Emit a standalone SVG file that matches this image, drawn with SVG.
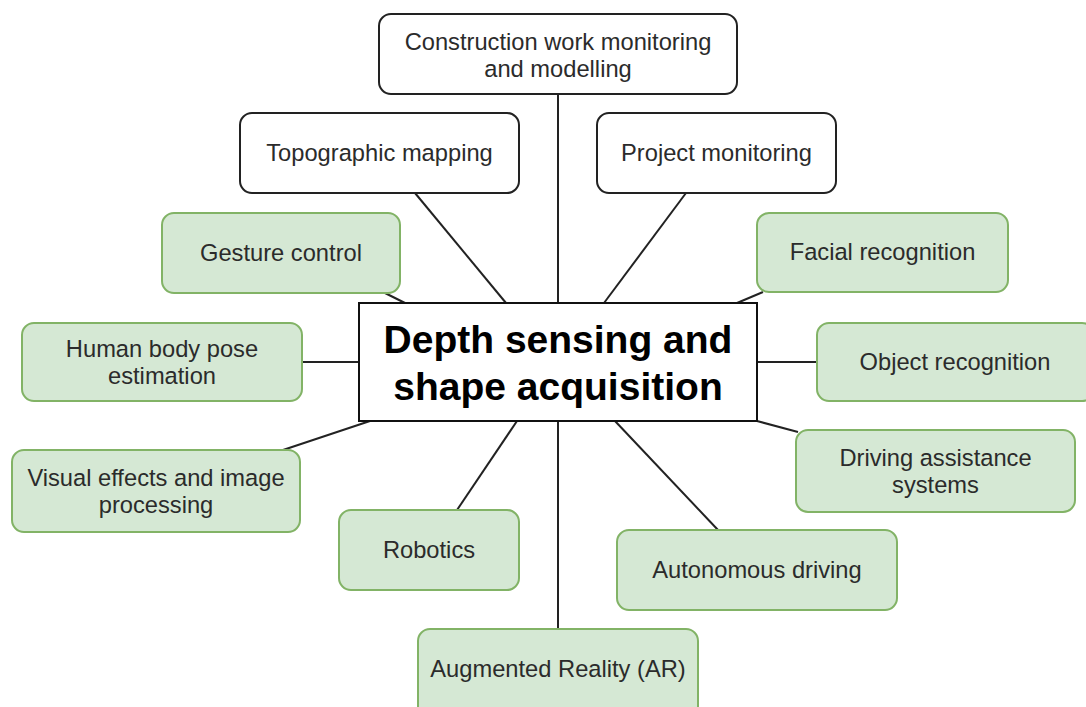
<svg xmlns="http://www.w3.org/2000/svg" width="1086" height="707" viewBox="0 0 1086 707">
  <style>
    .plain { fill: #ffffff; stroke: #222222; stroke-width: 2; }
    .green { fill: #d5e8d4; stroke: #82b366; stroke-width: 2; }
    .hub { fill: #ffffff; stroke: #111111; stroke-width: 2; }
    .lbl { font-family: "Liberation Sans", Arial, sans-serif; font-size: 23.7px; fill: #2b2b2b; text-anchor: middle; }
    .hubtxt { font-family: "Liberation Sans", Arial, sans-serif; font-size: 39px; font-weight: bold; fill: #000000; text-anchor: middle; }
    .links line { stroke: #222222; stroke-width: 2; }
  </style>
  <rect width="1086" height="707" fill="#ffffff"/>

  <!-- spokes from the central node -->
  <g id="connectors" class="links">
    <line x1="558" y1="94" x2="558" y2="303"/>
    <line x1="415" y1="193" x2="506" y2="303"/>
    <line x1="686" y1="193" x2="604" y2="303"/>
    <line x1="383" y1="292" x2="405" y2="303"/>
    <line x1="763" y1="292" x2="737" y2="303"/>
    <line x1="302" y1="362" x2="359" y2="362"/>
    <line x1="757" y1="362" x2="817" y2="362"/>
    <line x1="370" y1="421" x2="283" y2="450"/>
    <line x1="757" y1="421" x2="798" y2="432"/>
    <line x1="517" y1="421" x2="457" y2="510"/>
    <line x1="558" y1="421" x2="558" y2="629"/>
    <line x1="615" y1="421" x2="718" y2="530"/>
  </g>

  <g id="hub">
    <rect class="hub" x="359" y="303" width="398" height="118"/>
    <text class="hubtxt" x="558" y="353">Depth sensing and</text>
    <text class="hubtxt" x="558" y="400">shape acquisition</text>
  </g>

  <g id="construction">
    <rect class="plain" x="379" y="14" width="358" height="80" rx="12"/>
    <text class="lbl" x="558" y="50">Construction work monitoring</text>
    <text class="lbl" x="558" y="77">and modelling</text>
  </g>

  <g id="topographic">
    <rect class="plain" x="240" y="113" width="279" height="80" rx="12"/>
    <text class="lbl" x="379.5" y="161">Topographic mapping</text>
  </g>

  <g id="project">
    <rect class="plain" x="597" y="113" width="239" height="80" rx="12"/>
    <text class="lbl" x="716.5" y="161">Project monitoring</text>
  </g>

  <g id="gesture">
    <rect class="green" x="162" y="213" width="238" height="80" rx="12"/>
    <text class="lbl" x="281" y="261">Gesture control</text>
  </g>

  <g id="facial">
    <rect class="green" x="757" y="213" width="251" height="79" rx="12"/>
    <text class="lbl" x="882.5" y="260">Facial recognition</text>
  </g>

  <g id="humanpose">
    <rect class="green" x="22" y="323" width="280" height="78" rx="12"/>
    <text class="lbl" x="162" y="357">Human body pose</text>
    <text class="lbl" x="162" y="384">estimation</text>
  </g>

  <g id="object">
    <rect class="green" x="817" y="323" width="277" height="78" rx="12"/>
    <text class="lbl" x="955" y="370">Object recognition</text>
  </g>

  <g id="visual">
    <rect class="green" x="12" y="450" width="288" height="82" rx="12"/>
    <text class="lbl" x="156" y="486">Visual effects and image</text>
    <text class="lbl" x="156" y="513">processing</text>
  </g>

  <g id="driving">
    <rect class="green" x="796" y="430" width="279" height="82" rx="12"/>
    <text class="lbl" x="935.5" y="466">Driving assistance</text>
    <text class="lbl" x="935.5" y="493">systems</text>
  </g>

  <g id="robotics">
    <rect class="green" x="339" y="510" width="180" height="80" rx="12"/>
    <text class="lbl" x="429" y="558">Robotics</text>
  </g>

  <g id="autonomous">
    <rect class="green" x="617" y="530" width="280" height="80" rx="12"/>
    <text class="lbl" x="757" y="578">Autonomous driving</text>
  </g>

  <g id="ar">
    <rect class="green" x="418" y="629" width="280" height="90" rx="12"/>
    <text class="lbl" x="558" y="677">Augmented Reality (AR)</text>
  </g>
</svg>
